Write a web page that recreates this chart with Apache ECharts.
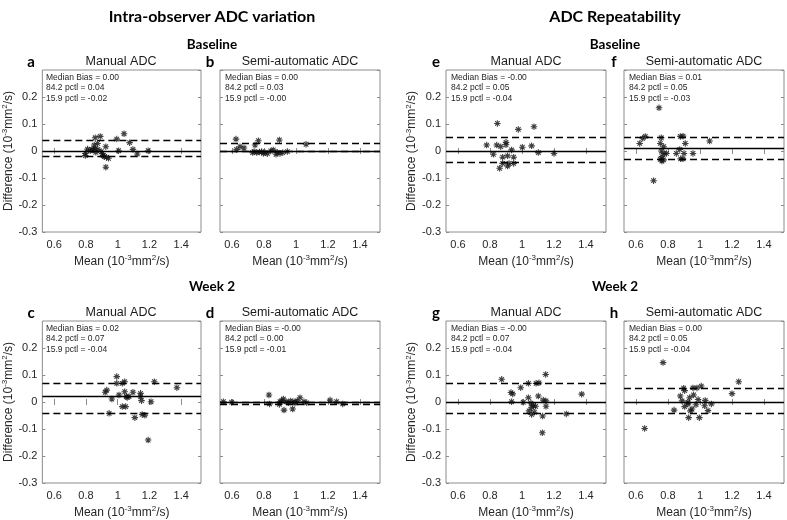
<!DOCTYPE html>
<html><head><meta charset="utf-8">
<script src="https://cdn.jsdelivr.net/npm/echarts@6/dist/echarts.min.js"></script>
<style>html,body{margin:0;padding:0;background:#fff}#c{width:787px;height:520px}</style>
</head><body><div id="c"></div>
<script>
// ---------- data ----------
const panelLetters = ['a','b','e','f','c','d','g','h'];
const panelTitles = ['Manual ADC','Semi-automatic ADC','Manual ADC','Semi-automatic ADC',
                     'Manual ADC','Semi-automatic ADC','Manual ADC','Semi-automatic ADC'];
const groupTitles = ['Intra-observer ADC variation','ADC Repeatability'];
const rowTitles = ['Baseline','Week 2'];
const medianBias = [0.001, 0.000, -0.002, 0.008, 0.020, -0.001, -0.001, 0.003];
const pctl842 = [0.036, 0.026, 0.052, 0.052, 0.067, 0.003, 0.068, 0.052];
const pctl159 = [-0.021, -0.004, -0.044, -0.030, -0.044, -0.006, -0.037, -0.038];
const medianText = ['0.00','0.00','-0.00','0.01','0.02','-0.00','-0.00','0.00'];
const p842Text = ['0.04','0.03','0.05','0.05','0.07','0.00','0.07','0.05'];
const p159Text = ['-0.02','-0.00','-0.04','-0.03','-0.04','-0.01','-0.04','-0.04'];
const xTicks = [0.6, 0.8, 1, 1.2, 1.4];
const xRange = [0.525, 1.525];
const yRange = [-0.3, 0.3];

const ptsA = [[0.858,0.049],[0.890,0.054],[0.994,0.044],[1.040,0.064],[1.075,0.031],[0.873,0.028],[0.852,0.022],[0.810,0.007],[0.827,0.001],[0.845,0.004],[0.858,0.009],[0.875,0.006],[0.925,0.016],[0.796,-0.009],[0.796,-0.017],[0.862,-0.005],[0.904,-0.009],[0.915,-0.021],[0.929,-0.023],[0.942,-0.027],[0.908,-0.017],[0.925,-0.060],[1.006,0.001],[1.096,0.006],[1.123,-0.011],[1.192,0.001],[0.896,-0.002],[0.837,0.006]];
const ptsB = [[0.625,0.044],[0.629,0.006],[0.650,0.016],[0.675,0.011],[0.744,0.022],[0.765,0.038],[0.738,-0.002],[0.754,-0.006],[0.771,-0.004],[0.785,-0.002],[0.806,-0.006],[0.821,-0.010],[0.842,0.000],[0.858,0.004],[0.875,-0.012],[0.896,0.041],[0.900,-0.009],[0.917,-0.006],[0.946,-0.002],[1.063,0.025],[0.729,-0.006],[0.796,-0.009],[0.883,-0.005]];
const ptsE = [[0.846,0.102],[0.977,0.080],[1.075,0.090],[0.779,0.022],[0.842,0.022],[0.867,0.016],[0.900,0.032],[0.935,0.004],[1.002,0.014],[1.060,0.019],[1.102,-0.006],[1.200,-0.009],[0.821,-0.012],[0.879,-0.023],[0.910,-0.018],[0.948,-0.023],[0.879,-0.046],[0.910,-0.056],[0.860,-0.064],[0.948,-0.046],[0.919,-0.046],[0.900,0.023]];
const ptsF = [[0.744,0.160],[0.623,0.028],[0.642,0.047],[0.658,0.054],[0.758,0.049],[0.752,0.028],[0.773,0.016],[0.758,0.000],[0.775,-0.009],[0.790,-0.009],[0.752,-0.031],[0.762,-0.037],[0.773,-0.033],[0.852,-0.009],[0.873,0.006],[0.877,0.054],[0.894,0.055],[0.908,0.028],[0.900,-0.009],[0.879,-0.029],[0.894,-0.029],[0.956,-0.009],[1.060,0.037],[0.710,-0.110],[0.762,-0.021]];
const ptsC = [[0.994,0.094],[0.994,0.069],[1.044,0.075],[1.029,0.069],[1.231,0.075],[1.373,0.053],[0.931,0.044],[0.921,0.036],[0.963,0.011],[1.008,0.026],[1.044,0.038],[1.054,0.020],[1.071,0.020],[1.096,0.036],[1.144,0.032],[1.144,0.020],[1.150,0.005],[1.210,0.001],[1.029,-0.017],[1.050,-0.017],[0.946,-0.042],[1.108,-0.058],[1.154,-0.046],[1.171,-0.049],[1.192,-0.141],[1.060,0.017]];
const ptsD = [[0.546,0.001],[0.598,-0.001],[0.831,0.026],[0.835,-0.007],[0.896,-0.009],[0.910,0.004],[0.921,0.011],[0.925,-0.030],[0.938,0.001],[0.952,-0.003],[0.979,-0.026],[0.967,0.004],[0.994,-0.004],[1.008,0.004],[1.025,0.016],[1.050,0.001],[1.067,-0.003],[1.213,0.007],[1.254,0.001],[1.292,-0.007],[0.900,0.001],[0.988,0.001]];
const ptsG = [[0.873,0.084],[1.148,0.102],[1.040,0.069],[1.088,0.069],[1.106,0.071],[0.992,0.053],[0.931,0.035],[0.942,0.030],[1.373,0.029],[1.040,0.016],[1.102,0.022],[1.133,0.007],[1.150,0.004],[0.935,0.001],[1.008,-0.001],[1.056,-0.004],[1.071,-0.013],[1.085,-0.016],[1.150,-0.016],[1.060,-0.020],[1.044,-0.033],[1.060,-0.046],[1.077,-0.038],[1.129,-0.052],[1.277,-0.044],[1.127,-0.114]];
const ptsH = [[0.769,0.146],[1.242,0.075],[0.898,0.051],[0.904,0.042],[0.956,0.052],[0.981,0.052],[1.008,0.059],[1.200,0.031],[0.877,0.022],[0.960,0.026],[0.935,0.016],[0.888,0.004],[0.925,-0.001],[0.925,-0.007],[0.988,0.009],[1.033,0.006],[0.904,-0.017],[0.950,-0.026],[0.975,-0.010],[1.029,-0.014],[1.071,-0.007],[0.838,-0.030],[0.940,-0.033],[1.050,-0.032],[0.929,-0.058],[0.996,-0.058],[0.654,-0.098]];
const panelPoints = [ptsA, ptsB, ptsE, ptsF, ptsC, ptsD, ptsG, ptsH];

// ---------- layout ----------
const gridLeft = [41, 220, 446, 624, 41, 220, 446, 624];
const gridTop = [70, 70, 70, 70, 321, 321, 321, 321];
const GW = 160, GH = 162;
const showYName = [true, false, true, false, true, false, true, false];
const groupCenters = [212, 615];
const rowHeaderY = [45, 287];
const BORDER = '#8c8c8c';
const TXT = '#262626';
const SANS = '"Liberation Sans", Arial, sans-serif';
const HEAD = 'Lato, "Open Sans", sans-serif';
const asterisk = 'path://M5,0L5,10M0,5L10,5M1.5,1.5L8.5,8.5M1.5,8.5L8.5,1.5';

const supRich = {
  n: { fontSize: 12, color: TXT, fontFamily: SANS, lineHeight: 15 },
  s: { fontSize: 8, color: TXT, fontFamily: SANS, verticalAlign: 'top', lineHeight: 15 }
};
const unitName = (pre) => '{n|' + pre + ' (10}{s|-3}{n|mm}{s|2}{n|/s)}';

const grids = [], xAxes = [], yAxes = [], series = [], graphics = [];
panelPoints.forEach((pts, i) => {
  grids.push({ left: gridLeft[i], top: gridTop[i], width: GW, height: GH, show: true,
    borderColor: BORDER, borderWidth: 1, backgroundColor: '#fff', containLabel: false });
  const tickStyle = { show: true, inside: true, length: 3, lineStyle: { color: BORDER, width: 1 } };
  xAxes.push({ type: 'value', gridIndex: i, min: xRange[0], max: xRange[1], position: 'bottom',
    axisLine: { show: false }, splitLine: { show: false },
    axisTick: Object.assign({ customValues: xTicks }, tickStyle),
    axisLabel: { customValues: xTicks, color: TXT, fontSize: 11, fontFamily: SANS, margin: 7 },
    name: unitName('Mean'), nameLocation: 'middle', nameGap: 22,
    nameTextStyle: { rich: supRich } });
  xAxes.push({ type: 'value', gridIndex: i, min: xRange[0], max: xRange[1], position: 'top',
    axisLine: { show: false }, splitLine: { show: false },
    axisTick: Object.assign({ customValues: xTicks }, tickStyle), axisLabel: { show: false } });
  yAxes.push({ type: 'value', gridIndex: i, min: yRange[0], max: yRange[1], interval: 0.1, position: 'left',
    axisLine: { show: false }, splitLine: { show: false }, axisTick: tickStyle,
    axisLabel: { show: showYName[i], showMaxLabel: false, color: TXT, fontSize: 11, fontFamily: SANS, margin: 5 },
    name: showYName[i] ? unitName('Difference') : '', nameLocation: 'middle', nameGap: 24, nameRotate: 90,
    nameTextStyle: { rich: supRich } });
  yAxes.push({ type: 'value', gridIndex: i, min: yRange[0], max: yRange[1], interval: 0.1, position: 'right',
    axisLine: { show: false }, splitLine: { show: false }, axisTick: tickStyle, axisLabel: { show: false } });
  series.push({ type: 'scatter', xAxisIndex: 2 * i, yAxisIndex: 2 * i, data: pts,
    symbol: asterisk, symbolSize: 6.5, silent: true,
    itemStyle: { color: 'rgba(0,0,0,0)', borderColor: '#111', borderWidth: 1.1 },
    markLine: { silent: true, symbol: ['none', 'none'], label: { show: false },
      data: [
        { yAxis: medianBias[i], lineStyle: { type: 'solid', color: '#000', width: 1.4 } },
        { yAxis: pctl842[i], lineStyle: { type: [7, 4], color: '#000', width: 1.4 } },
        { yAxis: pctl159[i], lineStyle: { type: [7, 4], color: '#000', width: 1.4 } }
      ] } });
  graphics.push({ type: 'text', left: gridLeft[i] + 5, top: gridTop[i] + 2, z: 100,
    style: { text: 'Median Bias = ' + medianText[i] + '\n84.2 pctl = ' + p842Text[i] + '\n15.9 pctl = ' + p159Text[i],
      font: '8.5px ' + SANS, fill: TXT, lineHeight: 10.7 } });
  graphics.push({ type: 'text', x: gridLeft[i] + GW / 2, y: gridTop[i] - 8,
    style: { text: panelTitles[i], font: '12.5px ' + SANS, fill: '#1a1a1a', textAlign: 'center', textVerticalAlign: 'middle' } });
  graphics.push({ type: 'text', x: gridLeft[i] - 10, y: gridTop[i] - 8,
    style: { text: panelLetters[i], font: 'bold 15px ' + HEAD, fill: '#000', textAlign: 'center', textVerticalAlign: 'middle' } });
});
groupTitles.forEach((t, g) => {
  graphics.push({ type: 'text', x: groupCenters[g], y: 17,
    style: { text: t, font: 'bold 16px ' + HEAD, fill: '#000', textAlign: 'center', textVerticalAlign: 'middle' } });
  rowTitles.forEach((r, k) => {
    graphics.push({ type: 'text', x: groupCenters[g], y: rowHeaderY[k],
      style: { text: r, font: 'bold 13.5px ' + HEAD, fill: '#000', textAlign: 'center', textVerticalAlign: 'middle' } });
  });
});

const chart = echarts.init(document.getElementById('c'), null, { renderer: 'canvas' });
chart.setOption({ animation: false, backgroundColor: '#fff', grid: grids, xAxis: xAxes, yAxis: yAxes, series: series, graphic: graphics });
</script></body></html>
